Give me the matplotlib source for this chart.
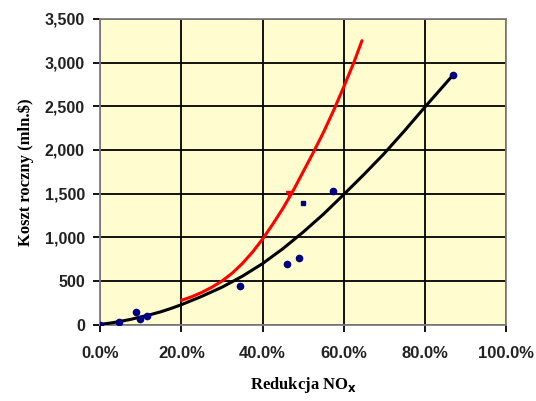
import numpy as np
import matplotlib
matplotlib.use('Agg')
import matplotlib.pyplot as plt
from matplotlib.ticker import FuncFormatter

# data points (NOx reduction fraction, annual cost mln $)
pts_x = [0.0, 0.047, 0.089, 0.099, 0.115, 0.345, 0.46, 0.49, 0.574, 0.869]
pts_y = [0, 35, 150, 65, 100, 445, 700, 765, 1530, 2860]
small_x = [0.50]
small_y = [1395]
red_pt_x = [0.466]
red_pt_y = [1500]

# trend curves
red_x = [0.20, 0.225, 0.25, 0.275, 0.30, 0.325, 0.35, 0.375, 0.40, 0.425,
         0.45, 0.475, 0.50, 0.525, 0.55, 0.575, 0.60, 0.625, 0.645]
red_y = [280, 320, 370, 430, 500, 590, 700, 830, 980, 1150,
         1330, 1530, 1750, 1970, 2200, 2450, 2720, 3000, 3250]
blk_x = [0.0, 0.025, 0.05, 0.075, 0.10, 0.125, 0.15, 0.175, 0.20, 0.25, 0.30,
         0.35, 0.40, 0.45, 0.50, 0.55, 0.60, 0.65, 0.70, 0.75, 0.80, 0.87]
blk_y = [5, 20, 40, 62, 90, 118, 150, 188, 230, 325, 430,
         555, 700, 870, 1060, 1265, 1490, 1720, 1960, 2220, 2490, 2860]

xticks = [0.0, 0.2, 0.4, 0.6, 0.8, 1.0]
yticks = [0, 500, 1000, 1500, 2000, 2500, 3000, 3500]

fig = plt.figure(figsize=(5.36, 4.01), dpi=100)
ax = fig.add_axes([0.187, 0.190, 0.757, 0.763])
ax.set_facecolor('#FFFDD0')

ax.plot(blk_x, blk_y, color='black', lw=2.2, zorder=3, solid_capstyle='round')
ax.plot(red_x, red_y, color='red', lw=2.2, zorder=3, solid_capstyle='round')
ax.plot(pts_x, pts_y, 'o', color='#000080', ms=4.5, zorder=4, ls='none')
ax.plot(small_x, small_y, 's', color='#000080', ms=2.5, zorder=4, ls='none')
ax.plot(red_pt_x, red_pt_y, 'v', color='red', ms=4, zorder=4, ls='none')

ax.set_xlim(0, 1.0)
ax.set_ylim(0, 3500)
ax.set_xticks(xticks)
ax.set_yticks(yticks)
ax.xaxis.set_major_formatter(FuncFormatter(lambda v, p: '%.1f%%' % (v * 100)))
ax.yaxis.set_major_formatter(FuncFormatter(lambda v, p: '{:,.0f}'.format(v)))
ax.grid(True, color='black', lw=1.3)
ax.set_axisbelow(True)
for s in ax.spines.values():
    s.set_color('#808080')
    s.set_linewidth(1.3)
ax.tick_params(direction='out', length=5, width=1.3, color='black')
ax.tick_params(axis='x', pad=10)
ax.tick_params(axis='y', pad=6)
for lab in ax.get_xticklabels():
    lab.set_fontfamily('Liberation Sans')
    lab.set_fontweight('bold')
    lab.set_fontsize(12)
    lab.set_color('#222222')
for lab in ax.get_yticklabels():
    lab.set_fontfamily('Liberation Sans')
    lab.set_fontweight('bold')
    lab.set_fontsize(11.5)
    lab.set_color('#222222')

ax.set_xlabel('Redukcja NO$_\\mathbf{x}$', fontfamily='Liberation Serif', fontweight='bold',
              fontsize=12, labelpad=10)
ax.set_ylabel('Koszt roczny (mln.$)', fontfamily='Liberation Serif', fontweight='bold',
              fontsize=12, labelpad=8)

fig.savefig('out.png', dpi=100)
